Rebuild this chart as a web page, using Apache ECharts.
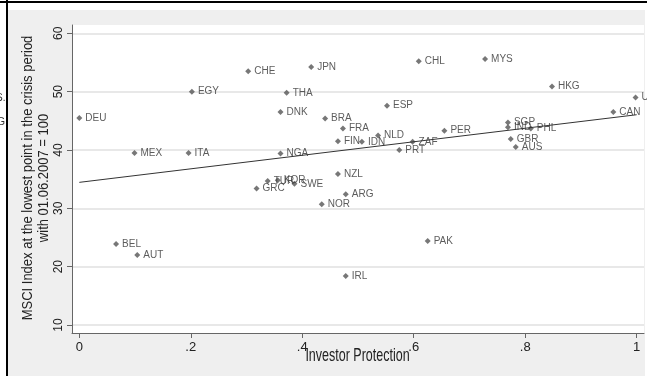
<!DOCTYPE html>
<html>
<head>
<meta charset="utf-8">
<title>MSCI index and investor protection</title>
<script src="https://cdn.jsdelivr.net/npm/echarts@6/dist/echarts.min.js"></script>
<style>
  html, body { margin: 0; padding: 0; background: #fff; }
  .box { position: absolute; }
  #topRule  { left: 0; top: 1px; width: 647px; height: 2px; background: #000; }
  #leftRule { left: 6px; top: 0; width: 2px; height: 376px; background: #000; }
  #panel    { left: 8px; top: 10px; width: 637px; height: 366px; background: #efefef; }
  #plotArea { left: 72px; top: 25px; width: 572px; height: 308px; background: #fff; }
  #chart    { position: absolute; left: 0; top: 0; width: 647px; height: 376px; }
</style>
</head>
<body>
<div class="box" id="panel"></div>
<div class="box" id="plotArea"></div>
<div class="box" id="topRule"></div>
<div class="box" id="leftRule"></div>
<div id="chart"></div>
<script>
// Country codes, investor protection score and MSCI index low (01.06.2007 = 100)
const countries = [
  'DEU', 'BEL', 'MEX', 'AUT', 'ITA', 'EGY', 'CHE', 'GRC', 'TUR', 'KOR',
  'DNK', 'NGA', 'THA', 'SWE', 'JPN', 'NOR', 'BRA', 'FIN', 'NZL', 'FRA',
  'ARG', 'IRL', 'IDN', 'NLD', 'ESP', 'PRT', 'ZAF', 'CHL', 'PAK', 'PER',
  'MYS', 'SGP', 'IND', 'GBR', 'AUS', 'PHL', 'HKG', 'CAN', 'USA'
];
const protection = [
  0.000, 0.066, 0.099, 0.104, 0.196, 0.202, 0.303, 0.318, 0.338, 0.356,
  0.361, 0.361, 0.372, 0.386, 0.416, 0.435, 0.441, 0.464, 0.464, 0.473,
  0.478, 0.478, 0.507, 0.536, 0.552, 0.574, 0.598, 0.609, 0.625, 0.655,
  0.728, 0.769, 0.769, 0.774, 0.783, 0.810, 0.848, 0.958, 0.998
];
const msciLow = [
  45.5, 23.9, 39.5, 22.0, 39.5, 50.0, 53.5, 33.4, 34.7, 34.8,
  46.5, 39.4, 49.8, 34.2, 54.2, 30.7, 45.4, 41.5, 35.9, 43.7,
  32.4, 18.4, 41.4, 42.5, 47.6, 40.0, 41.4, 55.2, 24.4, 43.3,
  55.6, 44.7, 43.9, 41.9, 40.5, 43.7, 50.9, 46.5, 49.0
];

// Fitted linear trend, end points at protection = 0 and 1
const fitX = [0, 1];
const fitY = [34.45, 46.04];

// Tick positions
const xTicks = [0, 0.2, 0.4, 0.6, 0.8, 1];
const yTicks = [10, 20, 30, 40, 50, 60];

const FONT = "'Liberation Sans', Arial, Helvetica, sans-serif";

const points = countries.map((c, i) => ({ name: c, value: [protection[i], msciLow[i]] }));
const fitLine = fitX.map((x, i) => [x, fitY[i]]);

function fmtX(v) {
  if (Math.abs(v) < 1e-9) return '0';
  if (Math.abs(v - 1) < 1e-9) return '1';
  return String(+v.toFixed(1)).replace(/^0/, '');
}

const chart = echarts.init(document.getElementById('chart'), null, { renderer: 'canvas' });

chart.setOption({
  animation: false,
  backgroundColor: 'transparent',
  textStyle: { fontFamily: FONT },
  grid: { left: 72, right: 3, top: 25, bottom: 43, containLabel: false, outerBoundsMode: 'none' },
  xAxis: {
    type: 'value',
    min: -0.0131,
    max: 1.0131,
    axisLine: { show: true, onZero: false, lineStyle: { color: '#666', width: 1 } },
    axisTick: { show: true, length: 5, customValues: xTicks, lineStyle: { color: '#666', width: 1 } },
    axisLabel: { customValues: xTicks, formatter: fmtX, margin: 8, fontSize: 13, color: '#222', fontFamily: FONT },
    splitLine: { show: false }
  },
  yAxis: {
    type: 'value',
    min: 8.63,
    max: 61.42,
    axisLine: { show: true, onZero: false, lineStyle: { color: '#666', width: 1 } },
    axisTick: { show: true, length: 5, customValues: yTicks, lineStyle: { color: '#666', width: 1 } },
    axisLabel: { customValues: yTicks, rotate: 90, margin: 7, fontSize: 12, color: '#222', fontFamily: FONT },
    splitLine: { show: true, lineStyle: { color: '#e8e8e8', width: 2 } }
  },
  graphic: [
    {
      type: 'text', x: 357.5, y: 356, scaleY: 1.45, silent: true,
      style: { text: 'Investor Protection', align: 'center', verticalAlign: 'middle', fontSize: 12.5, fontFamily: FONT, fill: '#222' }
    },
    {
      type: 'group', x: 35.75, y: 178, rotation: Math.PI / 2, silent: true,
      children: [
        {
          type: 'text', x: 0, y: -8.25, scaleY: 1.12,
          style: { text: 'MSCI Index at the lowest point in the crisis period', align: 'center', verticalAlign: 'middle', fontSize: 13, fontFamily: FONT, fill: '#222' }
        },
        {
          type: 'text', x: 0, y: 8.25, scaleY: 1.12,
          style: { text: 'with 01.06.2007 = 100', align: 'center', verticalAlign: 'middle', fontSize: 13, fontFamily: FONT, fill: '#222' }
        }
      ]
    },
    {
      type: 'text', x: 5.5, y: 98.5, silent: true,
      style: { text: 'S.', align: 'right', verticalAlign: 'middle', fontSize: 10, fontFamily: FONT, fill: '#333' }
    },
    {
      type: 'text', x: 5, y: 122, silent: true,
      style: { text: 'G', align: 'right', verticalAlign: 'middle', fontSize: 10, fontFamily: FONT, fill: '#333' }
    }
  ],
  series: [
    {
      type: 'scatter',
      data: points,
      symbol: 'diamond',
      symbolSize: 6,
      z: 2,
      itemStyle: { color: '#555' },
      label: {
        show: true, position: 'right', distance: 3, formatter: '{b}',
        fontSize: 10, color: '#333', fontFamily: FONT
      },
      emphasis: { disabled: true }
    },
    {
      type: 'line',
      data: fitLine,
      symbol: 'none',
      z: 3,
      silent: true,
      lineStyle: { color: '#333', width: 1 },
      emphasis: { disabled: true }
    }
  ]
});
</script>
</body>
</html>
